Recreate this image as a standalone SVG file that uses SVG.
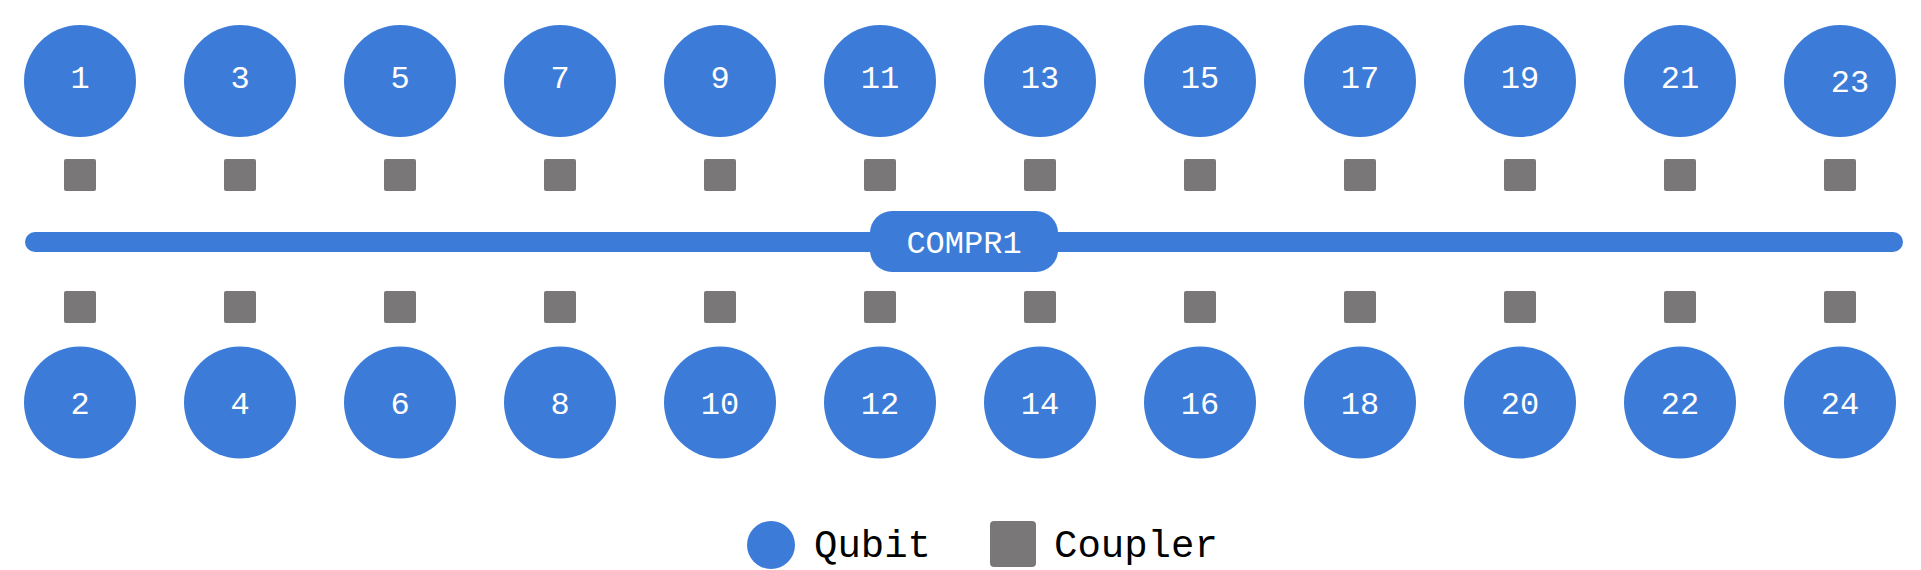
<svg xmlns="http://www.w3.org/2000/svg" width="1921" height="570" viewBox="0 0 1921 570">
<style>
.q{fill:#3c7cd8}
.c{fill:#797778}
.lbl{font-family:"Liberation Mono","DejaVu Sans Mono",monospace;font-size:32px;fill:#ffffff;text-anchor:middle}
.bus{stroke:#3c7cd8;stroke-width:20;stroke-linecap:round;fill:none}
.leg{font-family:"Liberation Mono","DejaVu Sans Mono",monospace;font-size:39px;fill:#000000}
</style>
<rect width="1921" height="570" fill="#ffffff"/>
<g id="connectors">
<line class="bus" x1="35" y1="242" x2="1893" y2="242"/>
</g>
<g id="compr1">
<rect class="q" x="870" y="211" width="188" height="61" rx="22"/>
<text class="lbl" x="964" y="253" font-size="33">COMPR1</text>
</g>
<g id="top-qubits">
<g id="q1"><circle class="q" cx="80" cy="81" r="56"/><text class="lbl" x="80" y="88">1</text></g>
<g id="q3"><circle class="q" cx="240" cy="81" r="56"/><text class="lbl" x="240" y="88">3</text></g>
<g id="q5"><circle class="q" cx="400" cy="81" r="56"/><text class="lbl" x="400" y="88">5</text></g>
<g id="q7"><circle class="q" cx="560" cy="81" r="56"/><text class="lbl" x="560" y="88">7</text></g>
<g id="q9"><circle class="q" cx="720" cy="81" r="56"/><text class="lbl" x="720" y="88">9</text></g>
<g id="q11"><circle class="q" cx="880" cy="81" r="56"/><text class="lbl" x="880" y="88">11</text></g>
<g id="q13"><circle class="q" cx="1040" cy="81" r="56"/><text class="lbl" x="1040" y="88">13</text></g>
<g id="q15"><circle class="q" cx="1200" cy="81" r="56"/><text class="lbl" x="1200" y="88">15</text></g>
<g id="q17"><circle class="q" cx="1360" cy="81" r="56"/><text class="lbl" x="1360" y="88">17</text></g>
<g id="q19"><circle class="q" cx="1520" cy="81" r="56"/><text class="lbl" x="1520" y="88">19</text></g>
<g id="q21"><circle class="q" cx="1680" cy="81" r="56"/><text class="lbl" x="1680" y="88">21</text></g>
<g id="q23"><circle class="q" cx="1840" cy="81" r="56"/><text class="lbl" x="1850" y="92">23</text></g>
</g>
<g id="top-couplers">
<rect class="c" x="64" y="159" width="32" height="32" rx="2"/>
<rect class="c" x="224" y="159" width="32" height="32" rx="2"/>
<rect class="c" x="384" y="159" width="32" height="32" rx="2"/>
<rect class="c" x="544" y="159" width="32" height="32" rx="2"/>
<rect class="c" x="704" y="159" width="32" height="32" rx="2"/>
<rect class="c" x="864" y="159" width="32" height="32" rx="2"/>
<rect class="c" x="1024" y="159" width="32" height="32" rx="2"/>
<rect class="c" x="1184" y="159" width="32" height="32" rx="2"/>
<rect class="c" x="1344" y="159" width="32" height="32" rx="2"/>
<rect class="c" x="1504" y="159" width="32" height="32" rx="2"/>
<rect class="c" x="1664" y="159" width="32" height="32" rx="2"/>
<rect class="c" x="1824" y="159" width="32" height="32" rx="2"/>
</g>
<g id="bottom-couplers">
<rect class="c" x="64" y="291" width="32" height="32" rx="2"/>
<rect class="c" x="224" y="291" width="32" height="32" rx="2"/>
<rect class="c" x="384" y="291" width="32" height="32" rx="2"/>
<rect class="c" x="544" y="291" width="32" height="32" rx="2"/>
<rect class="c" x="704" y="291" width="32" height="32" rx="2"/>
<rect class="c" x="864" y="291" width="32" height="32" rx="2"/>
<rect class="c" x="1024" y="291" width="32" height="32" rx="2"/>
<rect class="c" x="1184" y="291" width="32" height="32" rx="2"/>
<rect class="c" x="1344" y="291" width="32" height="32" rx="2"/>
<rect class="c" x="1504" y="291" width="32" height="32" rx="2"/>
<rect class="c" x="1664" y="291" width="32" height="32" rx="2"/>
<rect class="c" x="1824" y="291" width="32" height="32" rx="2"/>
</g>
<g id="bottom-qubits">
<g id="q2"><circle class="q" cx="80" cy="402.5" r="56"/><text class="lbl" x="80" y="414">2</text></g>
<g id="q4"><circle class="q" cx="240" cy="402.5" r="56"/><text class="lbl" x="240" y="414">4</text></g>
<g id="q6"><circle class="q" cx="400" cy="402.5" r="56"/><text class="lbl" x="400" y="414">6</text></g>
<g id="q8"><circle class="q" cx="560" cy="402.5" r="56"/><text class="lbl" x="560" y="414">8</text></g>
<g id="q10"><circle class="q" cx="720" cy="402.5" r="56"/><text class="lbl" x="720" y="414">10</text></g>
<g id="q12"><circle class="q" cx="880" cy="402.5" r="56"/><text class="lbl" x="880" y="414">12</text></g>
<g id="q14"><circle class="q" cx="1040" cy="402.5" r="56"/><text class="lbl" x="1040" y="414">14</text></g>
<g id="q16"><circle class="q" cx="1200" cy="402.5" r="56"/><text class="lbl" x="1200" y="414">16</text></g>
<g id="q18"><circle class="q" cx="1360" cy="402.5" r="56"/><text class="lbl" x="1360" y="414">18</text></g>
<g id="q20"><circle class="q" cx="1520" cy="402.5" r="56"/><text class="lbl" x="1520" y="414">20</text></g>
<g id="q22"><circle class="q" cx="1680" cy="402.5" r="56"/><text class="lbl" x="1680" y="414">22</text></g>
<g id="q24"><circle class="q" cx="1840" cy="402.5" r="56"/><text class="lbl" x="1840" y="414">24</text></g>
</g>
<g id="legend">
<circle class="q" cx="771" cy="545" r="24"/>
<text class="leg" x="814" y="557">Qubit</text>
<rect class="c" x="990" y="521" width="46" height="46" rx="4"/>
<text class="leg" x="1054" y="557">Coupler</text>
</g>
</svg>
